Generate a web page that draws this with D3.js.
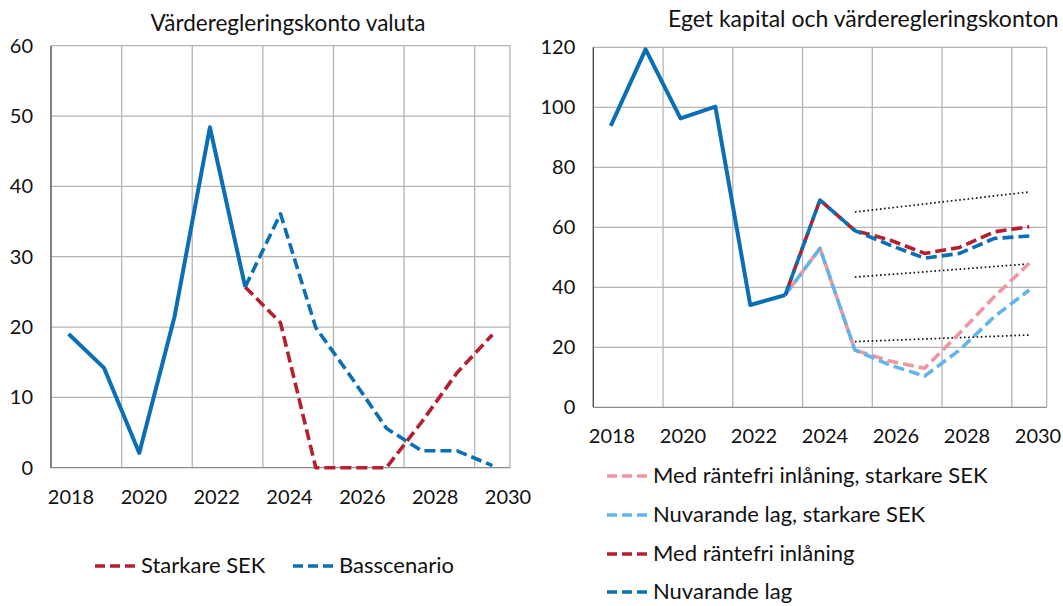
<!DOCTYPE html>
<html>
<head>
<meta charset="utf-8">
<script src="https://cdn.jsdelivr.net/npm/d3@7"></script>
<style>
  body { margin: 0; background: #fff; }
  svg { display: block; font-family: Lato, "Open Sans", sans-serif; }
</style>
</head>
<body>
<script>
// Categories (years) and tick labels
var years = [2018, 2019, 2020, 2021, 2022, 2023, 2024, 2025, 2026, 2027, 2028, 2029, 2030];
var yearLabels = [2018, 2020, 2022, 2024, 2026, 2028, 2030];
var histYears = [2018, 2019, 2020, 2021, 2022, 2023];
var progYears = [2023, 2024, 2025, 2026, 2027, 2028, 2029, 2030];

// Left chart: Värderegleringskonto valuta
var valutaHist = [19, 14.2, 2.1, 21.5, 48.4, 25.7];
var valutaBas = [25.7, 36.1, 19.9, 12.9, 5.6, 2.4, 2.4, 0.3];
var valutaStark = [25.7, 20.6, 0, 0, 0, 6.5, 13.5, 18.9];
var leftTicks = [0, 10, 20, 30, 40, 50, 60];

// Right chart: Eget kapital och värderegleringskonton
var egetHist = [93.8, 119.3, 96.3, 100.2, 34.1, 37.4];
var nuvarande = [37.4, 69.1, 58.9, 54.1, 49.7, 51.3, 56.3, 57.1];
var medRantefri = [37.4, 69.1, 58.9, 55.8, 51.3, 53.3, 58.5, 60.2];
var nuvarandeStark = [37.4, 53.0, 19.1, 14.1, 10.4, 19.1, 30.2, 39.1];
var medRantefriStark = [37.4, 53.0, 19.1, 15.4, 13.0, 24.7, 36.9, 48.0];
var rightTicks = [0, 20, 40, 60, 80, 100, 120];

// dotted reference lines (2025 -> 2030)
var dotYears = [2025, 2030];
var dotTop = [65.1, 71.8];
var dotMid = [43.4, 47.8];
var dotLow = [21.9, 24.1];

var blue = "#0a6fb4";
var red = "#b51f2e";
var pink = "#ee97a0";
var lightBlue = "#63b4eb";
var grid = "#b5b5b5";
var dash = "11,5";

var svg = d3.select("body").append("svg")
  .attr("width", 1063)
  .attr("height", 606);

function zip(xs, ys) {
  return xs.map(function(x, i) { return [x, ys[i]]; });
}

//Draws one panel: grid, axes, labels
function panel(o) {
  var x = d3.scaleBand().domain(years).range([o.x0, o.x1]).paddingInner(0).paddingOuter(0);
  var y = d3.scaleLinear().domain([0, o.ymax]).range([o.y0, o.y1]);
  var xl = d3.scalePoint().domain(yearLabels).range(o.labelRange);
  var g = svg.append("g");

  //horizontal grid lines
  g.selectAll(".hg").data(o.ticks.filter(function(d) { return d > 0; }))
    .enter().append("line")
    .attr("x1", o.x0).attr("x2", o.x1)
    .attr("y1", function(d) { return y(d); })
    .attr("y2", function(d) { return y(d); })
    .attr("stroke", grid).attr("stroke-width", 1.3);

  //vertical grid lines on every second category edge
  var edges = years.filter(function(d, i) { return i > 0 && i % 2 == 0; });
  g.selectAll(".vg").data(edges)
    .enter().append("line")
    .attr("x1", function(d) { return x(d); })
    .attr("x2", function(d) { return x(d); })
    .attr("y1", o.y1).attr("y2", o.y0)
    .attr("stroke", grid).attr("stroke-width", 1.3);
  g.append("line")
    .attr("x1", o.x1).attr("x2", o.x1).attr("y1", o.y1).attr("y2", o.y0)
    .attr("stroke", grid).attr("stroke-width", 1.3);

  //axes lines
  g.append("line")
    .attr("x1", o.x0).attr("x2", o.x1).attr("y1", o.y0).attr("y2", o.y0)
    .attr("stroke", "#8c8c8c").attr("stroke-width", 1.3);
  g.append("line")
    .attr("x1", o.x0).attr("x2", o.x0).attr("y1", o.y1).attr("y2", o.y0)
    .attr("stroke", "#404040").attr("stroke-width", 1.3);

  //y labels
  g.selectAll(".yl").data(o.ticks)
    .enter().append("text")
    .attr("x", o.x0 - 18)
    .attr("y", function(d) { return y(d); })
    .attr("dy", "0.35em")
    .attr("text-anchor", "end")
    .attr("font-size", 20)
    .attr("fill", "#111")
    .text(function(d) { return d; });

  //x labels
  g.selectAll(".xl").data(yearLabels)
    .enter().append("text")
    .attr("x", function(d) { return xl(d); })
    .attr("y", o.labelY)
    .attr("dy", "0.35em")
    .attr("text-anchor", "middle")
    .attr("font-size", 20)
    .attr("fill", "#111")
    .text(function(d) { return d; });

  return {
    x: function(d) { return x(d) + x.bandwidth() / 2; },
    y: y,
    g: g
  };
}

function series(p, xs, vals, color, opts) {
  opts = opts || {};
  var line = d3.line()
    .x(function(d) { return p.x(d[0]); })
    .y(function(d) { return p.y(d[1]); });
  p.g.append("path")
    .datum(zip(xs, vals))
    .attr("d", line)
    .attr("fill", "none")
    .attr("stroke", color)
    .attr("stroke-width", opts.width || 4)
    .attr("stroke-linejoin", "round")
    .attr("stroke-dasharray", opts.dash || null)
    .attr("stroke-dashoffset", opts.offset || 0);
}

// ---- Left panel
var L = panel({ x0: 51, x1: 510, y0: 467.7, y1: 45.7, ymax: 60, ticks: leftTicks,
  labelRange: [71, 508], labelY: 497 });
series(L, progYears, valutaStark, red, { dash: dash, width: 3.6 });
series(L, progYears, valutaBas, blue, { dash: dash, width: 3.6 });
series(L, histYears, valutaHist, blue, {});

svg.append("text")
  .attr("x", 288).attr("y", 31)
  .attr("text-anchor", "middle")
  .attr("font-size", 22.5)
  .attr("fill", "#111")
  .text("Värderegleringskonto valuta");

// ---- Right panel
var R = panel({ x0: 593.3, x1: 1046.7, y0: 407.3, y1: 47.3, ymax: 120, ticks: rightTicks,
  labelRange: [612, 1038], labelY: 436 });
[dotTop, dotMid, dotLow].forEach(function(v) {
  series(R, dotYears, v, "#111", { dash: "1.6,2.6", width: 1.7 });
});
series(R, progYears, medRantefriStark, pink, { dash: dash, width: 3.6, offset: 8 });
series(R, progYears, nuvarandeStark, lightBlue, { dash: dash, width: 3.6 });
series(R, progYears, medRantefri, red, { dash: dash, width: 3.6, offset: 8 });
series(R, progYears, nuvarande, blue, { dash: dash, width: 3.6 });
series(R, histYears, egetHist, blue, {});

svg.append("text")
  .attr("x", 668).attr("y", 27)
  .attr("font-size", 23)
  .attr("fill", "#111")
  .text("Eget kapital och värderegleringskonton");

// ---- Legends
var legendLeft = [
  { name: "Starkare SEK", color: red, x: 95, y: 566 },
  { name: "Basscenario", color: blue, x: 293, y: 566 }
];
var legendRight = [
  { name: "Med räntefri inlåning, starkare SEK", color: pink, x: 607, y: 476 },
  { name: "Nuvarande lag, starkare SEK", color: lightBlue, x: 607, y: 515 },
  { name: "Med räntefri inlåning", color: red, x: 607, y: 554 },
  { name: "Nuvarande lag", color: blue, x: 607, y: 592 }
];
legendLeft.concat(legendRight).forEach(function(d) {
  svg.append("line")
    .attr("x1", d.x).attr("x2", d.x + 40)
    .attr("y1", d.y).attr("y2", d.y)
    .attr("stroke", d.color).attr("stroke-width", 3.6)
    .attr("stroke-dasharray", "10,5");
  svg.append("text")
    .attr("x", d.x + 46).attr("y", d.y)
    .attr("dy", "0.33em")
    .attr("font-size", 22)
    .attr("fill", "#111")
    .text(d.name);
});
</script>
</body>
</html>
